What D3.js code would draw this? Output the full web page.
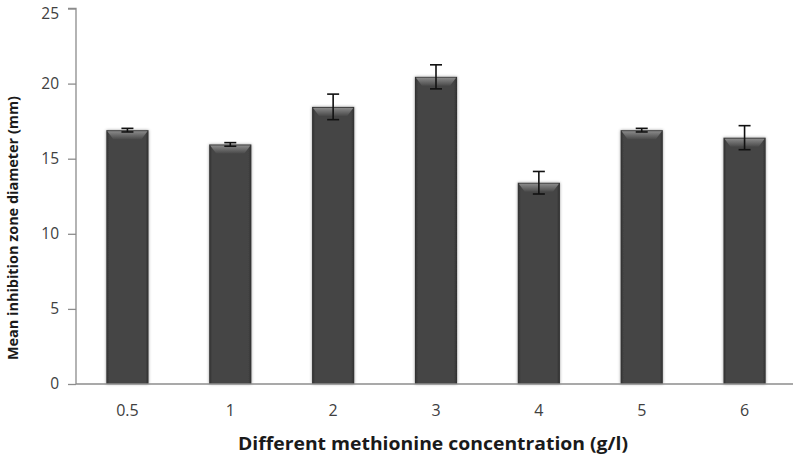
<!DOCTYPE html>
<html><head><meta charset="utf-8">
<script src="https://cdn.jsdelivr.net/npm/d3@7"></script>
<style>body{margin:0;background:#fff}svg{display:block}text{font-family:"Open Sans",sans-serif}</style>
</head><body><svg id="c" width="796" height="464"></svg>
<script>
const categories = ["0.5","1","2","3","4","5","6"];
const means = [16.9, 15.95, 18.45, 20.45, 13.4, 16.9, 16.4];
const errors = [0.12, 0.12, 0.85, 0.8, 0.75, 0.12, 0.8];
const yTicks = [0,5,10,15,20,25];

const svg = d3.select("#c");
const m = {l:76, r:0, t:8, b:80};
const W = 796, H = 464;
const x = d3.scaleBand().domain(categories).range([m.l, W - m.r]).paddingInner(0.59).paddingOuter(0.295);
const y = d3.scaleLinear().domain([0,25]).range([384, 8.5]);

const defs = svg.append("defs");
const g1 = defs.append("linearGradient").attr("id","bar").attr("x1","0").attr("x2","1");
[[0,"#2f2f2f"],[0.07,"#444"],[0.5,"#444"],[0.93,"#444"],[1,"#2f2f2f"]].forEach(s=>g1.append("stop").attr("offset",s[0]).attr("stop-color",s[1]));
const g2 = defs.append("linearGradient").attr("id","bev").attr("x1","0").attr("x2","0").attr("y1","0").attr("y2","1");
[[0,"#8a8a8a"],[1,"#4a4a4a"]].forEach(s=>g2.append("stop").attr("offset",s[0]).attr("stop-color",s[1]));
const f = defs.append("filter").attr("id","sh").attr("x","-30%").attr("y","-10%").attr("width","160%").attr("height","120%");
f.append("feDropShadow").attr("dx",0).attr("dy",0).attr("stdDeviation",1.8).attr("flood-color","#000").attr("flood-opacity",0.4);

// y axis
const ya = svg.append("g").attr("transform",`translate(${m.l},0)`)
  .call(d3.axisLeft(y).tickValues(yTicks).tickSize(8).tickPadding(9).tickFormat(d3.format("d")));
ya.select(".domain").attr("stroke","#8c8c8c").attr("stroke-width",1.3).attr("d",`M-8,${y(25)}H0V${y(0)}`);
ya.selectAll(".tick line").attr("stroke","#8c8c8c").attr("stroke-width",1.3);
ya.selectAll(".tick text").attr("fill","#404040").style("font-size","15.5px");
ya.selectAll(".tick text").filter(d=>d===25).attr("dy","0.62em");

// bars
const bars = svg.append("g");
categories.forEach((c,i)=>{
  const x0 = x(c), w = x.bandwidth(), yt = y(means[i]), h = y(0)-yt;
  const bg = bars.append("g");
  bg.append("rect").attr("x",x0).attr("y",yt).attr("width",w).attr("height",h).attr("fill","url(#bar)").attr("filter","url(#sh)");
  bg.append("path").attr("d",`M${x0+1},${yt+1}H${x0+w-1}L${x0+w-7},${yt+9}H${x0+7}Z`).attr("fill","url(#bev)");
});

// x axis
svg.append("line").attr("x1",m.l).attr("x2",793).attr("y1",y(0)).attr("y2",y(0)).attr("stroke","#8c8c8c").attr("stroke-width",1.3);
const xa = svg.append("g").attr("transform",`translate(0,${y(0)})`).call(d3.axisBottom(x).tickSize(0).tickPadding(21));
xa.select(".domain").remove();
xa.selectAll(".tick text").attr("fill","#404040").style("font-size","16px");

// error bars
const eb = svg.append("g").attr("stroke","#111").attr("stroke-width",1.6);
categories.forEach((c,i)=>{
  const cx = x(c)+x.bandwidth()/2, t = y(means[i]+errors[i]), b = y(means[i]-errors[i]);
  eb.append("line").attr("x1",cx).attr("x2",cx).attr("y1",t).attr("y2",b);
  eb.append("line").attr("x1",cx-6).attr("x2",cx+6).attr("y1",t).attr("y2",t);
  eb.append("line").attr("x1",cx-6).attr("x2",cx+6).attr("y1",b).attr("y2",b);
});

// titles
svg.append("text").attr("x",433).attr("y",450).attr("text-anchor","middle").attr("fill","#1a1a1a")
  .style("font-size","17px").style("font-weight","bold").attr("textLength",390).attr("lengthAdjust","spacingAndGlyphs")
  .text("Different methionine concentration  (g/l)");
svg.append("text").attr("transform","translate(18,228) rotate(-90)").attr("text-anchor","middle").attr("fill","#1a1a1a")
  .style("font-size","15px").style("font-weight","bold").attr("textLength",264).attr("lengthAdjust","spacingAndGlyphs")
  .text("Mean inhibition zone diameter (mm)");
</script></body></html>
